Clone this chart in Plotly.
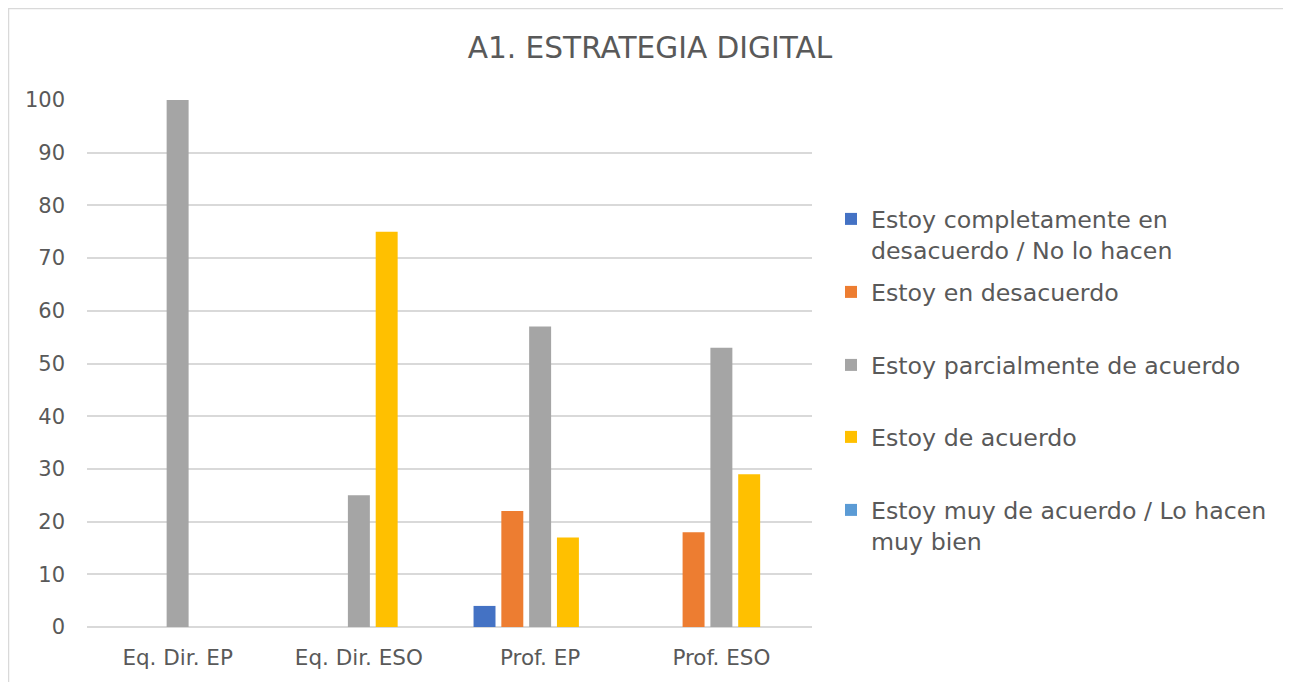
import plotly.graph_objects as go

categories = ["Eq. Dir. EP", "Eq. Dir. ESO", "Prof. EP", "Prof. ESO"]
series_names = [
    "Estoy completamente en<br>desacuerdo / No lo hacen",
    "Estoy en desacuerdo",
    "Estoy parcialmente de acuerdo",
    "Estoy de acuerdo",
    "Estoy muy de acuerdo / Lo hacen<br>muy bien",
]
s1 = [0, 0, 4, 0]
s2 = [0, 0, 22, 18]
s3 = [100, 25, 57, 53]
s4 = [0, 75, 17, 29]
s5 = [0, 0, 0, 0]
series_values = [s1, s2, s3, s4, s5]
colors = ["#4472C4", "#ED7D31", "#A5A5A5", "#FFC000", "#5B9BD5"]
y_ticks = list(range(0, 101, 10))

# page offset (body margin) -> figure coordinates = reference - O
O = 8
W, H = 1291 - O, 682 - O
L, R, T, B = 87 - O, 812 - O, 100 - O, 627 - O

def px(xr):
    return (xr - O - L) / (R - L)

def py(yr):
    return (B - (yr - O)) / (B - T)

FONT = "DejaVu Sans"
TXT = "#595959"

fig = go.Figure()
legend_tops = [197, 270, 343, 415, 488]
for i, (name, vals, c) in enumerate(zip(series_names, series_values, colors)):
    lg = "legend" if i == 0 else f"legend{i+1}"
    fig.add_trace(go.Bar(x=categories, y=vals, name=name, marker_color=c,
                         marker_line_width=0, legend=lg))

layout_legends = {}
for i, top in enumerate(legend_tops):
    key = "legend" if i == 0 else f"legend{i+1}"
    layout_legends[key] = dict(
        x=px(831), y=py(top), xanchor="left", yanchor="top",
        font=dict(family=FONT, size=23.7, color=TXT),
        bgcolor="rgba(0,0,0,0)", valign="top", itemclick=False,
    )

fig.update_layout(
    width=W, height=H,
    margin=dict(l=L, r=W - R, t=T, b=H - B),
    paper_bgcolor="white", plot_bgcolor="white",
    title=dict(text="A1. ESTRATEGIA DIGITAL", xref="container",
               x=(650 - O) / W, xanchor="center",
               y=1 - (48 - O) / H, yanchor="middle",
               font=dict(family=FONT, size=29.6, color=TXT)),
    barmode="group", bargap=0.233, bargroupgap=0.21,
    showlegend=True,
    xaxis=dict(showgrid=False, showline=False, ticks="",
               tickfont=dict(family=FONT, size=21.5, color=TXT),
               ticklabelstandoff=15),
    yaxis=dict(range=[0, 100], tickvals=y_ticks, showgrid=True,
               gridcolor="#D9D9D9", gridwidth=1.5, zeroline=True,
               zerolinecolor="#D9D9D9", zerolinewidth=1.5, showline=False,
               tickfont=dict(family=FONT, size=21, color=TXT),
               ticklabelstandoff=21),
    shapes=[dict(type="rect", xref="paper", yref="paper",
                 x0=px(8.5), x1=px(1320), y0=py(720), y1=py(8.5),
                 line=dict(color="#D9D9D9", width=1.5), fillcolor="rgba(0,0,0,0)",
                 layer="below")],
    **layout_legends,
)

fig.write_html("out.html")
